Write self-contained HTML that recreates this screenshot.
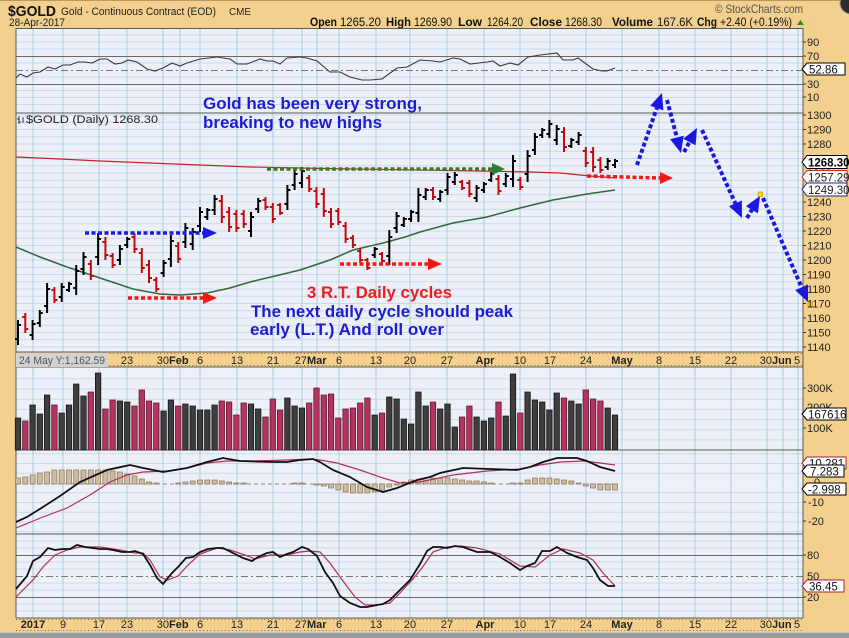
<!DOCTYPE html>
<html><head><meta charset="utf-8"><style>
html,body{margin:0;padding:0;background:#f3d08d}
svg{display:block}
text{font-family:"Liberation Sans",Arial,sans-serif}
</style></head><body>
<svg width="849" height="638" viewBox="0 0 849 638" xmlns="http://www.w3.org/2000/svg">
<rect x="0" y="0" width="849" height="638" fill="#f3d08d"/>
<line x1="0" y1="0.5" x2="849" y2="0.5" stroke="#b89a60"/>
<!-- panel backgrounds -->
<rect x="16" y="28" width="787" height="324" fill="#eef0f8"/>
<rect x="16" y="367" width="787" height="251" fill="#eef0f8"/>
<rect x="16" y="352" width="787" height="15" fill="#f3d08d"/>
<rect x="16" y="618" width="787" height="14" fill="#f3d08d"/>
<rect x="0" y="632" width="849" height="6" fill="#9a9a9a"/>
<line x1="0" y1="632.5" x2="849" y2="632.5" stroke="#c8c8c8"/>

<!-- horizontal minor grid -->
<path fill="none" stroke="#cadaee" stroke-width="1" d="
M16 35H803M16 42H803M16 49H803M16 63H803M16 77H803M16 90.5H803M16 97.5H803M16 104.5H803
M16 115H803M16 122.25H803M16 129.5H803M16 136.75H803M16 144H803M16 151.25H803M16 158.5H803M16 165.75H803M16 173H803M16 180.25H803M16 187.5H803M16 194.75H803M16 202H803M16 209.25H803M16 216.5H803M16 223.75H803M16 231H803M16 238.25H803M16 245.5H803M16 252.75H803M16 260H803M16 267.25H803M16 274.5H803M16 281.75H803M16 289H803M16 296.25H803M16 303.5H803M16 310.75H803M16 318H803M16 325.25H803M16 332.5H803M16 339.75H803M16 347H803
M16 378.8H803M16 389H803M16 399.3H803M16 409.4H803M16 419.6H803M16 429.7H803M16 439.9H803
M16 453.75H803M16 463.5H803M16 473.25H803M16 492.75H803M16 502.5H803M16 512.25H803M16 522H803M16 531.75H803
M16 541H803M16 548H803M16 562H803M16 569H803M16 583H803M16 590H803M16 604H803M16 611H803"/>
<!-- vertical grid -->
<path fill="none" stroke="#a6cbe4" stroke-width="1" d="
M33 28V352M63 28V352M99 28V352M127 28V352M163 28V352M180 28V352M200 28V352M237 28V352M273 28V352M302 28V352M317 28V352M339 28V352M376 28V352M410 28V352M447 28V352M484 28V352M520 28V352M550 28V352M586 28V352M622 28V352M659 28V352M695 28V352M731 28V352M767 28V352M783 28V352M798 28V352
M33 367V618M63 367V618M99 367V618M127 367V618M163 367V618M180 367V618M200 367V618M237 367V618M273 367V618M302 367V618M317 367V618M339 367V618M376 367V618M410 367V618M447 367V618M484 367V618M520 367V618M550 367V618M586 367V618M622 367V618M659 367V618M695 367V618M731 367V618M767 367V618M783 367V618M798 367V618"/>
<!-- indicator reference lines -->
<path fill="none" stroke="#6a6a6a" d="M16 56.5H803M16 84.5H803M16 555.5H803M16 597.5H803"/>
<path fill="none" stroke="#777" stroke-dasharray="7 3 2 3" d="M16 70.5H803M16 576.5H803"/>
<path fill="none" stroke="#888" stroke-dasharray="4 3" d="M16 484H618"/>

<!-- panel borders -->
<path fill="none" stroke="#5a5a5a" d="M16 28.5H803M16 113H803M16 352H803M16 367H803M16 450H803M16 534H803M16 618H803M16 28V618M803 28V618"/>
<!-- date strip ticks -->
<path fill="none" stroke="#8a6a30" stroke-dasharray="1 2.6" d="M16 353.5H803M16 365.5H803M16 619.5H803M16 630.5H803"/>

<!-- RSI -->
<polyline fill="none" stroke="#3a3a3a" stroke-width="1.1" points="16,78 20,74 27,77 33,73 40,72 48,67 55,69 63,65 70,65 78,62 85,62 92,63 100,59 107,59 115,64 122,63 128,60 137,62 147,69 155,71 163,68 172,63 180,66 187,63 200,59 217,57 230,59 237,64 247,64 260,59 267,61 273,61 280,64 287,58 300,57 307,58 317,61 330,72 340,72 350,77 362,80 370,80 382,79 397,68 407,67 420,60 433,61 440,62 453,58 460,59 470,64 487,62 493,61 500,66 510,63 518,65 528,57 540,55 557,53 563,60 573,60 578,58 593,69 602,71 607,71 615,68"/>

<!-- moving averages -->
<polyline fill="none" stroke="#c02828" stroke-width="1.2" points="16,157 60,159 100,161 150,163 200,165 250,167 300,168 350,169 420,170 480,171 530,172 560,173 590,176 615,178"/>
<polyline fill="none" stroke="#2f6a3a" stroke-width="1.5" points="16,247 40,257 67,267 100,278 133,289 160,294 180,295 207,293 230,288 250,282 275,276 300,270 330,260 353,250 383,243 405,237 420,232 453,223 487,217 520,208 553,200 587,194 615,190"/>

<!-- price bars -->
<path fill="none" stroke="#000" stroke-width="2" d="M18 320V345M15 339H18M18 325H21M32.6 320V340M29.6 335H32.6M32.6 324H35.6M39.8 310V327M36.8 323H39.8M39.8 313H42.8M47.1 283V313M44.1 306H47.1M47.1 289H50.1M61.7 283V302M58.7 297H61.7M61.7 287H64.7M69 282V292M66 290H69M69 284H72M76.2 265V295M73.2 288H76.2M76.2 271H79.2M83.5 252V275M80.5 269H83.5M83.5 257H86.5M98.1 233V265M95.1 257H98.1M98.1 239H101.1M119.9 245V265M116.9 260H119.9M119.9 249H122.9M127.2 237V248M124.2 245H127.2M127.2 239H130.2M163.6 260V277M160.6 273H163.6M163.6 263H166.6M170.9 235V267M167.9 259H170.9M170.9 241H173.9M185.4 223V248M182.4 242H185.4M185.4 228H188.4M192.7 228V250M189.7 244H192.7M192.7 232H195.7M200 207V232M197 226H200M200 212H203M207.3 208V220M204.3 217H207.3M207.3 210H210.3M214.6 195V215M211.6 210H214.6M214.6 199H217.6M251 212V237M248 231H251M251 217H254M258.2 198V213M255.2 209H258.2M258.2 201H261.2M287.4 185V210M284.4 204H287.4M287.4 190H290.4M294.6 170V190M291.6 185H294.6M294.6 174H297.6M301.9 167V188M298.9 183H301.9M301.9 171H304.9M374.7 247V258M371.7 255H374.7M374.7 249H377.7M389.3 230V265M386.3 256H389.3M389.3 237H392.3M396.6 212V233M393.6 228H396.6M396.6 216H399.6M403.8 217V227M400.8 225H403.8M403.8 219H406.8M411.1 210V222M408.1 219H411.1M411.1 212H414.1M418.4 188V222M415.4 213H418.4M418.4 195H421.4M425.7 188V200M422.7 197H425.7M425.7 190H428.7M440.2 190V202M437.2 199H440.2M440.2 192H443.2M447.5 173V195M444.5 190H447.5M447.5 177H450.5M454.8 172V185M451.8 182H454.8M454.8 175H457.8M476.6 185V202M473.6 198H476.6M476.6 188H479.6M483.9 182V193M480.9 190H483.9M483.9 184H486.9M491.2 172V182M488.2 180H491.2M491.2 174H494.2M505.8 173V187M502.8 184H505.8M505.8 176H508.8M513 155V187M510 179H513M513 161H516M527.6 150V182M524.6 174H527.6M527.6 156H530.6M534.9 133V155M531.9 150H534.9M534.9 137H537.9M542.2 128V138M539.2 135H542.2M542.2 130H545.2M549.4 120V138M546.4 134H549.4M549.4 124H552.4M556.7 125V145M553.7 140H556.7M556.7 129H559.7M571.3 138V148M568.3 146H571.3M571.3 140H574.3M578.6 132V145M575.6 142H578.6M578.6 135H581.6M607.7 158V170M604.7 167H607.7M607.7 161H610.7M615 159V168M612 165H615M615 161H618"/>
<path fill="none" stroke="#c40a0a" stroke-width="2" d="M25.3 313V333M22.3 317H25.3M25.3 329H28.3M54.4 287V303M51.4 290H54.4M54.4 300H57.4M90.8 260V280M87.8 264H90.8M90.8 276H93.8M105.4 237V260M102.4 242H105.4M105.4 255H108.4M112.6 253V268M109.6 256H112.6M112.6 265H115.6M134.5 233V253M131.5 237H134.5M134.5 249H137.5M141.8 248V273M138.8 253H141.8M141.8 268H144.8M149 260V283M146 265H149M149 278H152M156.3 277V292M153.3 280H156.3M156.3 289H159.3M178.2 242V263M175.2 246H178.2M178.2 259H181.2M221.8 195V223M218.8 201H221.8M221.8 217H224.8M229.1 207V232M226.1 212H229.1M229.1 227H232.1M236.4 210V232M233.4 214H236.4M236.4 228H239.4M243.7 210V228M240.7 214H243.7M243.7 224H246.7M265.5 197V210M262.5 200H265.5M265.5 207H268.5M272.8 203V223M269.8 207H272.8M272.8 219H275.8M280.1 203V215M277.1 205H280.1M280.1 213H283.1M309.2 175V192M306.2 178H309.2M309.2 189H312.2M316.5 187V208M313.5 191H316.5M316.5 204H319.5M323.8 188V217M320.8 194H323.8M323.8 211H326.8M331 208V228M328 212H331M331 224H334M338.3 208V225M335.3 211H338.3M338.3 222H341.3M345.6 222V243M342.6 226H345.6M345.6 239H348.6M352.9 235V248M349.9 238H352.9M352.9 245H355.9M360.2 248V263M357.2 251H360.2M360.2 260H363.2M367.4 258V270M364.4 260H367.4M367.4 268H370.4M382 252V263M379 254H382M382 261H385M433 187V200M430 190H433M433 197H436M462.1 180V190M459.1 182H462.1M462.1 188H465.1M469.4 180V197M466.4 183H469.4M469.4 194H472.4M498.5 175V195M495.5 179H498.5M498.5 191H501.5M520.3 177V190M517.3 180H520.3M520.3 187H523.3M564 127V152M561 132H564M564 147H567M585.8 147V167M582.8 151H585.8M585.8 163H588.8M593.1 147V172M590.1 152H593.1M593.1 167H596.1M600.4 157V173M597.4 160H600.4M600.4 170H603.4"/>

<!-- volume -->
<path fill="#3e3e3e" stroke="#151515" stroke-width="0.8" d="M15.3 418h5.4V450h-5.4zM29.9 405h5.4V450h-5.4zM37.1 414h5.4V450h-5.4zM44.4 395h5.4V450h-5.4zM59 413h5.4V450h-5.4zM66.3 405h5.4V450h-5.4zM73.5 384h5.4V450h-5.4zM80.8 396h5.4V450h-5.4zM95.4 373h5.4V450h-5.4zM117.2 401h5.4V450h-5.4zM124.5 402h5.4V450h-5.4zM160.9 411h5.4V450h-5.4zM168.2 400h5.4V450h-5.4zM182.7 404h5.4V450h-5.4zM190 406h5.4V450h-5.4zM197.3 410h5.4V450h-5.4zM204.6 410h5.4V450h-5.4zM211.9 405h5.4V450h-5.4zM248.3 404h5.4V450h-5.4zM255.5 409h5.4V450h-5.4zM284.7 398h5.4V450h-5.4zM291.9 406h5.4V450h-5.4zM299.2 408h5.4V450h-5.4zM372 415h5.4V450h-5.4zM386.6 397h5.4V450h-5.4zM393.9 399h5.4V450h-5.4zM401.1 419h5.4V450h-5.4zM408.4 424h5.4V450h-5.4zM415.7 392h5.4V450h-5.4zM423 406h5.4V450h-5.4zM437.5 409h5.4V450h-5.4zM444.8 404h5.4V450h-5.4zM452.1 427h5.4V450h-5.4zM473.9 417h5.4V450h-5.4zM481.2 421h5.4V450h-5.4zM488.5 418h5.4V450h-5.4zM503.1 416h5.4V450h-5.4zM510.3 374h5.4V450h-5.4zM524.9 392h5.4V450h-5.4zM532.2 400h5.4V450h-5.4zM539.5 402h5.4V450h-5.4zM546.7 410h5.4V450h-5.4zM554 393h5.4V450h-5.4zM568.6 401h5.4V450h-5.4zM575.9 404h5.4V450h-5.4zM605 408h5.4V450h-5.4zM612.3 415h5.4V450h-5.4z"/>
<path fill="#b3355f" stroke="#5e1730" stroke-width="0.8" d="M22.6 421h5.4V450h-5.4zM51.7 405h5.4V450h-5.4zM88.1 392h5.4V450h-5.4zM102.7 409h5.4V450h-5.4zM109.9 400h5.4V450h-5.4zM131.8 406h5.4V450h-5.4zM139.1 390h5.4V450h-5.4zM146.3 401h5.4V450h-5.4zM153.6 403h5.4V450h-5.4zM175.5 406h5.4V450h-5.4zM219.1 401h5.4V450h-5.4zM226.4 402h5.4V450h-5.4zM233.7 415h5.4V450h-5.4zM241 403h5.4V450h-5.4zM262.8 417h5.4V450h-5.4zM270.1 399h5.4V450h-5.4zM277.4 410h5.4V450h-5.4zM306.5 403h5.4V450h-5.4zM313.8 388h5.4V450h-5.4zM321.1 395h5.4V450h-5.4zM328.3 394h5.4V450h-5.4zM335.6 418h5.4V450h-5.4zM342.9 409h5.4V450h-5.4zM350.2 408h5.4V450h-5.4zM357.5 403h5.4V450h-5.4zM364.7 398h5.4V450h-5.4zM379.3 413h5.4V450h-5.4zM430.3 402h5.4V450h-5.4zM459.4 417h5.4V450h-5.4zM466.7 406h5.4V450h-5.4zM495.8 402h5.4V450h-5.4zM517.6 413h5.4V450h-5.4zM561.3 398h5.4V450h-5.4zM583.1 390h5.4V450h-5.4zM590.4 399h5.4V450h-5.4zM597.7 401h5.4V450h-5.4z"/>

<!-- MACD histogram -->
<path fill="#cdbd9e" stroke="#8d7c60" stroke-width="0.8" d="M15.5 478h5V484h-5zM22.8 477h5V484h-5zM30.1 475h5V484h-5zM37.3 473h5V484h-5zM44.6 472h5V484h-5zM51.9 470h5V484h-5zM59.2 470h5V484h-5zM66.5 470h5V484h-5zM73.7 470h5V484h-5zM81 470h5V484h-5zM88.3 470h5V484h-5zM95.6 470h5V484h-5zM102.9 470h5V484h-5zM110.1 471h5V484h-5zM117.4 472h5V484h-5zM124.7 474h5V484h-5zM132 476h5V484h-5zM139.3 479h5V484h-5zM146.5 482h5V484h-5zM153.8 483h5V484h-5zM175.7 483h5V484h-5zM182.9 482h5V484h-5zM190.2 481h5V484h-5zM197.5 480h5V484h-5zM204.8 480h5V484h-5zM212.1 480h5V484h-5zM219.3 481h5V484h-5zM226.6 482h5V484h-5zM233.9 483h5V484h-5zM241.2 483h5V484h-5zM292.1 483h5V484h-5zM299.4 483h5V484h-5zM314 484h5v1h-5zM321.3 484h5v2h-5zM328.5 484h5v4h-5zM335.8 484h5v6h-5zM343.1 484h5v8h-5zM350.4 484h5v9h-5zM357.7 484h5v9h-5zM364.9 484h5v9h-5zM372.2 484h5v8h-5zM379.5 484h5v6h-5zM386.8 484h5v3h-5zM394.1 484h5v1h-5zM401.3 482h5V484h-5zM408.6 480h5V484h-5zM415.9 480h5V484h-5zM423.2 480h5V484h-5zM430.5 478h5V484h-5zM437.7 478h5V484h-5zM445 478h5V484h-5zM452.3 479h5V484h-5zM459.6 480h5V484h-5zM466.9 481h5V484h-5zM474.1 481h5V484h-5zM481.4 482h5V484h-5zM488.7 483h5V484h-5zM510.5 483h5V484h-5zM517.8 483h5V484h-5zM525.1 480h5V484h-5zM532.4 478h5V484h-5zM539.7 478h5V484h-5zM546.9 478h5V484h-5zM554.2 479h5V484h-5zM561.5 480h5V484h-5zM568.8 481h5V484h-5zM576.1 483h5V484h-5zM583.3 484h5v2h-5zM590.6 484h5v4h-5zM597.9 484h5v6h-5zM605.2 484h5v6h-5zM612.5 484h5v6h-5z"/>
<!-- MACD lines -->
<polyline fill="none" stroke="#b0305a" stroke-width="1.2" points="16,528 43,517 67,508 90,495 110,482 127,475 143,472 167,471 187,468 207,463 227,461 253,461 287,460 310,459 320,460 337,463 360,470 383,478 400,483 420,482 453,475 487,471 520,469 540,465 560,462 583,461 600,463 615,465"/>
<polyline fill="none" stroke="#111" stroke-width="1.8" points="16,522 27,517 43,507 60,496 80,482 107,470 130,465 143,468 163,472 187,468 207,462 223,458 240,461 273,462 287,462 300,460 313,459 320,462 333,470 350,477 367,487 383,492 397,488 417,480 430,477 440,473 463,468 490,469 517,470 530,467 543,462 557,458 577,458 587,461 600,467 615,471"/>

<!-- Stochastics -->
<polyline fill="none" stroke="#b0305a" stroke-width="1.2" points="16,597 33,580 43,567 55,555 67,550 80,547 100,547 120,550 135,553 143,553 150,560 160,577 168,580 178,576 188,565 200,554 217,548 230,550 245,555 255,559 270,555 287,555 300,552 310,551 320,552 330,563 340,577 355,597 365,605 377,605 390,603 400,593 412,580 422,568 433,552 447,547 460,546 477,548 500,554 520,566 535,567 550,555 563,549 580,553 593,560 603,573 615,586"/>
<polyline fill="none" stroke="#111" stroke-width="1.8" points="16,589 27,576 33,561 40,557 48,548 55,550 63,549 70,549 77,545 85,547 100,549 107,549 113,550 122,552 130,552 135,551 143,554 150,565 157,578 163,584 172,573 178,567 186,558 193,557 200,552 208,549 217,548 223,548 233,553 243,558 252,561 258,557 267,553 273,552 280,557 287,554 293,552 302,547 308,549 317,556 325,572 333,583 340,596 350,603 360,607 367,607 377,605 383,604 390,600 400,590 410,580 420,564 427,551 433,547 440,547 447,548 455,546 463,547 477,552 483,552 490,552 500,557 510,563 520,570 527,566 535,563 542,551 550,551 557,547 567,553 577,557 587,560 593,568 600,580 608,586 615,586"/>

<!-- annotation arrows -->
<g stroke-width="3.5" stroke-dasharray="4 2.5" fill="none">
<line x1="85" y1="233" x2="204" y2="233" stroke="#1a1ae0"/>
<line x1="128" y1="298" x2="204" y2="298" stroke="#f21818"/>
<line x1="267" y1="169" x2="492" y2="169" stroke="#3a7a22"/>
<line x1="340" y1="264" x2="429" y2="264" stroke="#f21818"/>
<line x1="587" y1="176" x2="661" y2="178" stroke="#f21818"/>
</g>
<polygon points="203,227 217,233 203,239" fill="#1a1ae0"/>
<polygon points="203,292 217,298 203,304" fill="#f21818"/>
<polygon points="492,163 505,169 492,175" fill="#2e7d32"/>
<polygon points="428,258 442,264 428,270" fill="#f21818"/>
<polygon points="660,172 673,178 660,184" fill="#f21818"/>
<g stroke="#1818e2" stroke-width="4" stroke-dasharray="4 2.5" fill="none">
<line x1="637" y1="165" x2="656.8" y2="108.1"/>
<line x1="667" y1="100" x2="676.9" y2="137.5"/>
<line x1="684" y1="152" x2="689.4" y2="142.1"/>
<line x1="702" y1="130" x2="735.4" y2="203.4"/>
<line x1="747" y1="218" x2="751.9" y2="209.8"/>
<line x1="763" y1="198" x2="801.6" y2="287.3"/>
</g>
<g fill="#1818e2">
<polygon points="662,93 663.4,110.4 650.2,105.8"/>
<polygon points="681,153 683.7,135.7 670.1,139.3"/>
<polygon points="697,128 695.6,145.4 683.2,138.8"/>
<polygon points="742,218 741.8,200.5 729,206.3"/>
<polygon points="760,196 757.9,213.4 745.9,206.2"/>
<polygon points="808,302 808,284.5 795.2,290.1"/>
</g>
<rect x="758" y="192" width="4.5" height="4.5" fill="#ffd800" stroke="#c09000" stroke-width="0.6"/>
<rect x="808" y="302" width="4.5" height="4.5" fill="#ffd800" stroke="#c09000" stroke-width="0.6"/>

<!-- annotation text -->
<g font-weight="bold" font-size="17">
<text x="203" y="109" fill="#1c1cd2" textLength="219" lengthAdjust="spacingAndGlyphs">Gold has been very strong,</text>
<text x="203" y="128" fill="#1c1cd2" textLength="179" lengthAdjust="spacingAndGlyphs">breaking to new highs</text>
<text x="307" y="298" fill="#e82020" textLength="145" lengthAdjust="spacingAndGlyphs">3 R.T. Daily cycles</text>
<text x="251" y="317" fill="#1c1cd2" textLength="262" lengthAdjust="spacingAndGlyphs">The next daily cycle should peak</text>
<text x="250" y="335" fill="#1c1cd2" textLength="194" lengthAdjust="spacingAndGlyphs">early (L.T.) And roll over</text>
</g>

<!-- price label -->
<path d="M19 116V124M17 119H19M19 122H21M23 117V123" stroke="#333" stroke-width="1" fill="none"/>
<text x="26" y="123" font-size="11" fill="#222" font-family="'DejaVu Sans',sans-serif" textLength="132" lengthAdjust="spacingAndGlyphs">$GOLD (Daily) 1268.30</text>

<!-- header -->
<text x="8" y="16" font-size="15" font-weight="bold" fill="#111" textLength="48" lengthAdjust="spacingAndGlyphs">$GOLD</text>
<text x="61" y="15" font-size="11" fill="#222" textLength="155" lengthAdjust="spacingAndGlyphs">Gold - Continuous Contract (EOD)</text>
<text x="229" y="15" font-size="10" fill="#222" textLength="22" lengthAdjust="spacingAndGlyphs">CME</text>
<text x="9" y="26" font-size="11" fill="#222" textLength="56" lengthAdjust="spacingAndGlyphs">28-Apr-2017</text>
<text x="715" y="13" font-size="12" fill="#555" textLength="88" lengthAdjust="spacingAndGlyphs">© StockCharts.com</text>
<g font-size="12" fill="#111">
<text x="310" y="26" font-weight="bold" textLength="27" lengthAdjust="spacingAndGlyphs">Open</text>
<text x="340" y="26" textLength="41" lengthAdjust="spacingAndGlyphs">1265.20</text>
<text x="386" y="26" font-weight="bold" textLength="25" lengthAdjust="spacingAndGlyphs">High</text>
<text x="414" y="26" textLength="38" lengthAdjust="spacingAndGlyphs">1269.90</text>
<text x="458" y="26" font-weight="bold" textLength="24" lengthAdjust="spacingAndGlyphs">Low</text>
<text x="487" y="26" textLength="36" lengthAdjust="spacingAndGlyphs">1264.20</text>
<text x="530" y="26" font-weight="bold" textLength="32" lengthAdjust="spacingAndGlyphs">Close</text>
<text x="565" y="26" textLength="37" lengthAdjust="spacingAndGlyphs">1268.30</text>
<text x="612" y="26" font-weight="bold" textLength="41" lengthAdjust="spacingAndGlyphs">Volume</text>
<text x="657" y="26" textLength="36" lengthAdjust="spacingAndGlyphs">167.6K</text>
<text x="697" y="26" font-weight="bold" textLength="20" lengthAdjust="spacingAndGlyphs">Chg</text>
<text x="720" y="26" textLength="72" lengthAdjust="spacingAndGlyphs">+2.40 (+0.19%)</text>
</g>
<polygon points="797,25 800.5,20 804,25" fill="#2a8a2a"/>
<circle cx="851" cy="3" r="11" fill="#2c2c2c" stroke="#999" stroke-width="1"/>

<!-- right axis ticks -->
<path fill="none" stroke="#333" d="M803 42H806M803 56H806M803 84H806M803 97H806M803 115H806M803 129.5H806M803 144H806M803 202H806M803 216.5H806M803 231H806M803 245.5H806M803 260H806M803 274.5H806M803 289H806M803 303.5H806M803 318H806M803 332.5H806M803 347H806M803 388H806M803 428H806M803 502H806M803 521H806M803 555H806M803 597H806"/>
<g font-size="11" fill="#222">
<text x="807" y="46">90</text><text x="807" y="60">70</text><text x="807" y="88">30</text><text x="807" y="101">10</text>
<text x="807" y="119">1300</text><text x="807" y="133.5">1290</text><text x="807" y="148">1280</text><text x="807" y="177">1260</text>
<text x="807" y="206">1240</text><text x="807" y="220.5">1230</text><text x="807" y="235">1220</text><text x="807" y="249.5">1210</text><text x="807" y="264">1200</text><text x="807" y="278.5">1190</text><text x="807" y="293">1180</text><text x="807" y="307.5">1170</text><text x="807" y="322">1160</text><text x="807" y="336.5">1150</text><text x="807" y="351">1140</text>
<text x="807" y="392">300K</text><text x="807" y="411">200K</text><text x="807" y="432">100K</text>
<text x="814" y="486">0</text><text x="808" y="506">-10</text><text x="808" y="525">-20</text>
<text x="807" y="559">80</text><text x="807" y="580">50</text><text x="807" y="601">20</text>
</g>
<!-- value boxes -->
<g font-size="11.5">
<path d="M802 69l5-6h38v12h-38z" fill="#fff" stroke="#000"/><text x="809" y="73.5" fill="#111">52.86</text>
<path d="M802 162l5-6.5h40v13h-40z" fill="#fff" stroke="#000"/><text x="808" y="166.5" fill="#000" font-weight="bold">1268.30</text>
<path d="M802 177l5-6.5h40v13h-40z" fill="#fff" stroke="#c03030"/><text x="808" y="181.5" fill="#222">1257.29</text>
<path d="M802 189.5l5-6.5h40v13h-40z" fill="#fff" stroke="#1c2a6a"/><text x="808" y="194" fill="#222">1249.30</text>
<path d="M802 414l5-6h39v12h-39z" fill="#fff" stroke="#000"/><text x="808" y="418.5" fill="#111">167616</text>
<path d="M802 463l5-6h39v12h-39z" fill="#fff" stroke="#a02040"/><text x="809" y="467.5" fill="#111">10.281</text>
<path d="M802 471l5-6h37v12h-37z" fill="#fff" stroke="#000"/><text x="810" y="475.5" fill="#111">7.283</text>
<path d="M802 489l5-6h39v12h-39z" fill="#fff" stroke="#000"/><text x="808" y="493.5" fill="#111">-2.998</text>
<path d="M802 586l5-6h37v12h-37z" fill="#fff" stroke="#a02040"/><text x="809" y="590.5" fill="#111">36.45</text>
</g>

<!-- date strip inside main panel -->
<rect x="16" y="353" width="92" height="14" fill="#d2d2d2"/>
<text x="19" y="364" font-size="11" fill="#555" textLength="86" lengthAdjust="spacingAndGlyphs">24 May Y:1,162.59</text>
<g font-size="11" fill="#222" text-anchor="middle">
<text x="127" y="364">23</text><text x="169" y="364" text-anchor="end">30</text><text x="169" y="364" text-anchor="start" font-weight="bold">Feb</text>
<text x="200" y="364">6</text><text x="237" y="364">13</text><text x="273" y="364">21</text>
<text x="307" y="364" text-anchor="end">27</text><text x="307" y="364" text-anchor="start" font-weight="bold">Mar</text>
<text x="339" y="364">6</text><text x="376" y="364">13</text><text x="410" y="364">20</text><text x="447" y="364">27</text>
<text x="485" y="364" font-weight="bold">Apr</text><text x="520" y="364">10</text><text x="550" y="364">17</text><text x="586" y="364">24</text>
<text x="622" y="364" font-weight="bold">May</text><text x="659" y="364">8</text><text x="695" y="364">15</text><text x="731" y="364">22</text>
<text x="772" y="364" text-anchor="end">30</text><text x="772" y="364" text-anchor="start" font-weight="bold">Jun</text><text x="794" y="364" text-anchor="start">5</text>
</g>
<!-- bottom date strip -->
<g font-size="11" fill="#222" text-anchor="middle">
<text x="33" y="628" font-weight="bold">2017</text><text x="63" y="628">9</text><text x="99" y="628">17</text>
<text x="127" y="628">23</text><text x="169" y="628" text-anchor="end">30</text><text x="169" y="628" text-anchor="start" font-weight="bold">Feb</text>
<text x="200" y="628">6</text><text x="237" y="628">13</text><text x="273" y="628">21</text>
<text x="307" y="628" text-anchor="end">27</text><text x="307" y="628" text-anchor="start" font-weight="bold">Mar</text>
<text x="339" y="628">6</text><text x="376" y="628">13</text><text x="410" y="628">20</text><text x="447" y="628">27</text>
<text x="485" y="628" font-weight="bold">Apr</text><text x="520" y="628">10</text><text x="550" y="628">17</text><text x="586" y="628">24</text>
<text x="622" y="628" font-weight="bold">May</text><text x="659" y="628">8</text><text x="695" y="628">15</text><text x="731" y="628">22</text>
<text x="772" y="628" text-anchor="end">30</text><text x="772" y="628" text-anchor="start" font-weight="bold">Jun</text><text x="794" y="628" text-anchor="start">5</text>
</g>
</svg>
</body></html>
